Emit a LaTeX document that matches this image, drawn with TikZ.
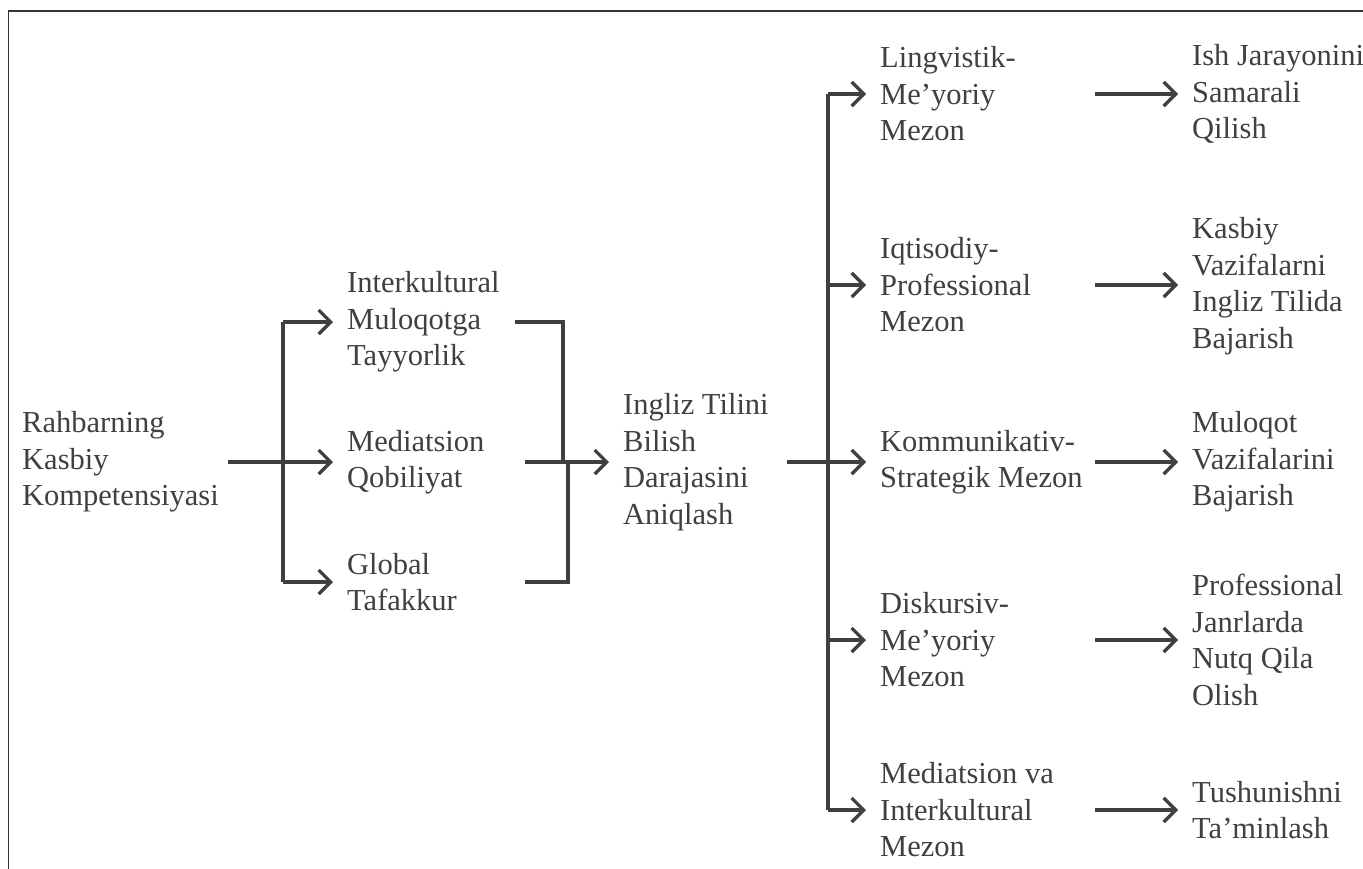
\documentclass[tikz,border=0pt]{standalone}
\usepackage{fontspec}
\setmainfont{Liberation Serif}
\usetikzlibrary{arrows.meta}
\definecolor{ink}{HTML}{404040}
\definecolor{frame}{HTML}{333333}
\begin{document}
\begin{tikzpicture}[x=1pt,y=-1pt,
  lbl/.style={anchor=west, align=left, inner xsep=14pt, inner ysep=0pt, text=ink,
    font=\fontsize{30.5}{36.5}\selectfont},
  conn/.style={draw=ink, line width=3.3pt},
  arr/.style={conn, -{Straight Barb[length=12pt,width=24pt,line width=3.3pt]}}]
\useasboundingbox (0,0) rectangle (1363,868);
\clip (0,0) rectangle (1363,868);
\draw[line width=1.8pt, draw=frame] (8.5,11) rectangle (1400,900);

% column 1
\node[lbl] (rk) at (8,462) {Rahbarning\\Kasbiy\\Kompetensiyasi};
% column 2
\node[lbl] (ik) at (333,322) {Interkultural\\Muloqotga\\Tayyorlik};
\node[lbl] (mq) at (333,462) {Mediatsion\\Qobiliyat};
\node[lbl] (gt) at (333,582) {Global\\Tafakkur};
% column 3
\node[lbl] (it) at (609,462) {Ingliz Tilini\\Bilish\\Darajasini\\Aniqlash};
% column 4
\node[lbl] (lm) at (866,94) {Lingvistik-\\Me’yoriy\\Mezon};
\node[lbl] (ip) at (866,285) {Iqtisodiy-\\Professional\\Mezon};
\node[lbl] (ks) at (866,462) {Kommunikativ-\\Strategik Mezon};
\node[lbl] (dm) at (866,640) {Diskursiv-\\Me’yoriy\\Mezon};
\node[lbl] (mi) at (866,810) {Mediatsion va\\Interkultural\\Mezon};
% column 5
\node[lbl] (ish) at (1178,94) {Ish Jarayonini\\Samarali\\Qilish};
\node[lbl] (kv) at (1178,286) {Kasbiy\\Vazifalarni\\Ingliz Tilida\\Bajarish};
\node[lbl] (mv) at (1178,462) {Muloqot\\Vazifalarini\\Bajarish};
\node[lbl] (pj) at (1178,640) {Professional\\Janrlarda\\Nutq Qila\\Olish};
\node[lbl] (tt) at (1178,810) {Tushunishni\\Ta’minlash};

% junctions
\coordinate (j1) at (283,462);
\coordinate (j2a) at (563,462);
\coordinate (j2b) at (568,462);
\coordinate (j3) at (828,462);

% fan out from rk
\draw[conn] ([xshift=220pt]rk.west) -- (j1);
\draw[conn] (j1 |- ik.west) -- (j1 |- gt.west);
\draw[arr] (j1 |- ik.west) -- (ik.west);
\draw[arr] (j1) -- (mq.west);
\draw[arr] (j1 |- gt.west) -- (gt.west);

% bracket into it
\draw[conn] ([xshift=182pt]ik.west) -- (j2a |- ik.west) -- (j2a);
\draw[conn] ([xshift=192pt]gt.west) -- (j2b |- gt.west) -- (j2b);
\draw[arr] ([xshift=192pt]mq.west) -- (it.west);

% fan out from it
\draw[conn] ([xshift=178pt]it.west) -- (j3);
\draw[conn] (j3 |- lm.west) -- (j3 |- mi.west);
\foreach \n in {lm,ip,ks,dm,mi}{
  \draw[arr] (j3 |- \n.west) -- (\n.west);
}

% right arrows
\draw[arr] ([xshift=229pt]lm.west) -- (ish.west |- lm.west);
\draw[arr] ([xshift=229pt]ip.west) -- (kv.west |- ip.west);
\draw[arr] ([xshift=229pt]ks.west) -- (mv.west);
\draw[arr] ([xshift=229pt]dm.west) -- (pj.west);
\draw[arr] ([xshift=229pt]mi.west) -- (tt.west);
\end{tikzpicture}
\end{document}
